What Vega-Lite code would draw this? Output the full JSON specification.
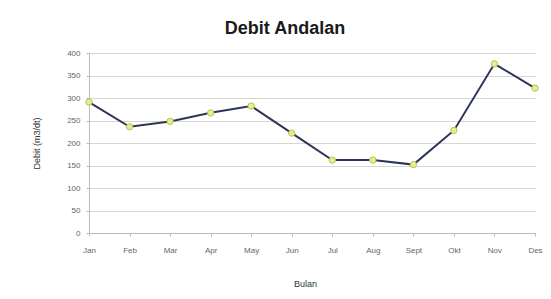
{
  "$schema": "https://vega.github.io/schema/vega-lite/v6.json",
  "width": 446,
  "height": 180,
  "autosize": "none",
  "padding": {"left": 89, "top": 53, "right": 16, "bottom": 66},
  "background": "white",
  "title": {"text": "Debit Andalan", "fontSize": 18, "font": "Liberation Sans", "fontWeight": "bold", "color": "#1a1a1a", "anchor": "middle", "dx": -27, "offset": 11},
  "data": {"values": [
    {"bulan": "Jan", "debit": 291},
    {"bulan": "Feb", "debit": 236},
    {"bulan": "Mar", "debit": 248},
    {"bulan": "Apr", "debit": 267},
    {"bulan": "May", "debit": 282},
    {"bulan": "Jun", "debit": 222},
    {"bulan": "Jul", "debit": 162},
    {"bulan": "Aug", "debit": 162},
    {"bulan": "Sept", "debit": 152},
    {"bulan": "Okt", "debit": 228},
    {"bulan": "Nov", "debit": 376},
    {"bulan": "Des", "debit": 322}
  ]},
  "config": {
    "view": {"stroke": null},
    "axis": {"labelFont": "Liberation Sans", "titleFont": "Liberation Sans", "labelColor": "#666666", "titleColor": "#333333", "labelFontSize": 8, "titleFontSize": 9, "titleFontWeight": "normal", "domainColor": "#bbbbbb", "tickColor": "#bbbbbb", "gridColor": "#d6d6d6"}
  },
  "encoding": {
    "x": {"field": "bulan", "type": "ordinal", "sort": null, "scale": {"type": "point", "padding": 0},
      "axis": {"title": "Bulan", "labelAngle": 0, "grid": false, "tickSize": 3, "labelPadding": 10, "titleY": 46, "titleX": 216}},
    "y": {"field": "debit", "type": "quantitative", "scale": {"domain": [0, 400]},
      "axis": {"title": "Debit (m3/dt)", "values": [0, 50, 100, 150, 200, 250, 300, 350, 400], "tickSize": 3, "labelPadding": 6, "titleX": -48, "domain": true}}
  },
  "layer": [
    {"mark": {"type": "line", "color": "#2c3558", "strokeWidth": 2}},
    {"mark": {"type": "point", "shape": "circle", "filled": true, "fill": "#e6ec9a", "stroke": "#b8c640", "strokeWidth": 1, "size": 40, "opacity": 1}}
  ]
}
